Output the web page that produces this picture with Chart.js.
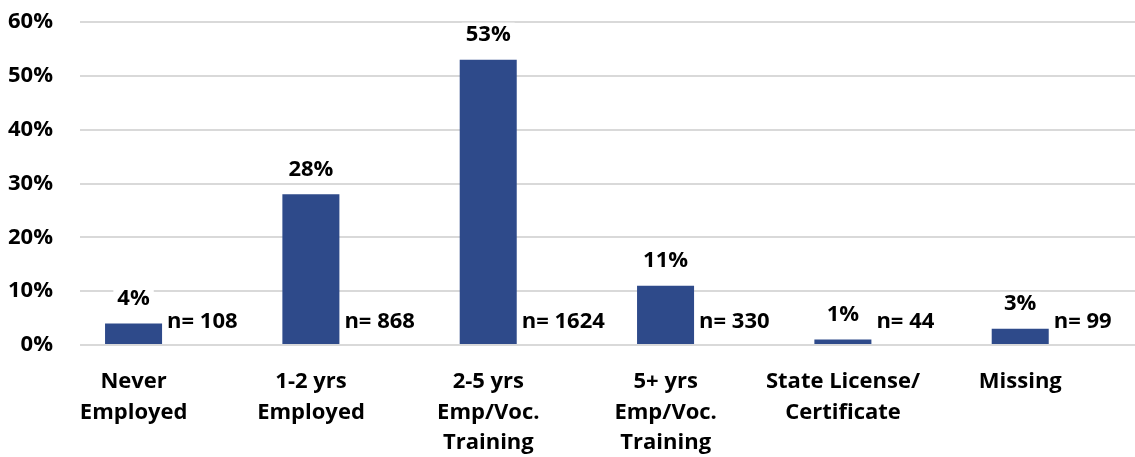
<!DOCTYPE html>
<html>
<head>
<meta charset="utf-8">
<script src="https://cdn.jsdelivr.net/npm/chart.js@4"></script>
<style>
  html, body { margin: 0; padding: 0; overflow: hidden; background: #fff; }
  #wrap { width: 1144px; height: 457px; }
</style>
</head>
<body>
<div id="wrap"><canvas id="myChart" width="1144" height="457"></canvas></div>
<script>
const categories = [
  ["Never", "Employed"],
  ["1-2 yrs", "Employed"],
  ["2-5 yrs", "Emp/Voc.", "Training"],
  ["5+ yrs", "Emp/Voc.", "Training"],
  ["State License/", "Certificate"],
  ["Missing"],
];
const percents = [4, 28, 53, 11, 1, 3];
const counts = [108, 868, 1624, 330, 44, 99];
const yTicks = [0, 10, 20, 30, 40, 50, 60];

const FONT = "'Open Sans', sans-serif";
const barColor = "#2E4A8A";

// percent on top of each bar, "n= x" to its right
const labelsPlugin = {
  id: "barLabels",
  afterDatasetsDraw(chart) {
    const ctx = chart.ctx;
    const meta = chart.getDatasetMeta(0);
    const area = chart.chartArea;
    ctx.save();
    ctx.font = "bold 22px " + FONT;
    ctx.textBaseline = "middle";
    meta.data.forEach((bar, i) => {
      const txt = percents[i] + "%";
      const w = ctx.measureText(txt).width;
      const cy = bar.y - 25;
      ctx.fillStyle = "#fff";
      ctx.fillRect(bar.x - w / 2 - 4, cy - 12, w + 8, 24);
      ctx.fillStyle = "#000";
      ctx.textAlign = "center";
      ctx.fillText(txt, bar.x, cy);

      ctx.textAlign = "left";
      ctx.fillText("n= " + counts[i], bar.x + bar.width / 2 + 5, area.bottom - 23);
    });
    ctx.restore();
  },
};

const chart = new Chart(document.getElementById("myChart"), {
  type: "bar",
  data: {
    labels: categories,
    datasets: [
      {
        label: "Percent",
        data: percents,
        backgroundColor: barColor,
        barPercentage: 0.812,
        categoryPercentage: 0.792,
      },
      {
        label: "spacer",
        data: percents.map(() => null),
        backgroundColor: "transparent",
        barPercentage: 0.812,
        categoryPercentage: 0.792,
      },
    ],
  },
  options: {
    responsive: false,
    animation: false,
    layout: { padding: { top: 22, left: 0, right: 0, bottom: 0 } },
    plugins: {
      legend: { display: false },
      tooltip: { enabled: false },
    },
    scales: {
      x: {
        grid: { display: false },
        border: { display: false },
        ticks: {
          color: "#000",
          font: { family: FONT, size: 22, weight: "bold", lineHeight: 1.38 },
          labelOffset: -35,
          padding: 14,
          maxRotation: 0,
          autoSkip: false,
        },
        afterFit(scale) {
          scale.height = 112;
        },
      },
      y: {
        min: 0,
        max: 60,
        afterBuildTicks(scale) {
          scale.ticks = yTicks.map((v) => ({ value: v }));
        },
        grid: { color: "#D9D9D9", lineWidth: 2, drawTicks: false },
        border: { display: false },
        ticks: {
          color: "#000",
          font: { family: FONT, size: 22, weight: "bold" },
          padding: 27,
          callback: (v) => v + "%",
        },
        afterFit(scale) {
          scale.width = 80;
          scale.paddingTop = 0;
          scale.paddingBottom = 0;
        },
      },
    },
  },
  plugins: [labelsPlugin],
});
</script>
</body>
</html>
